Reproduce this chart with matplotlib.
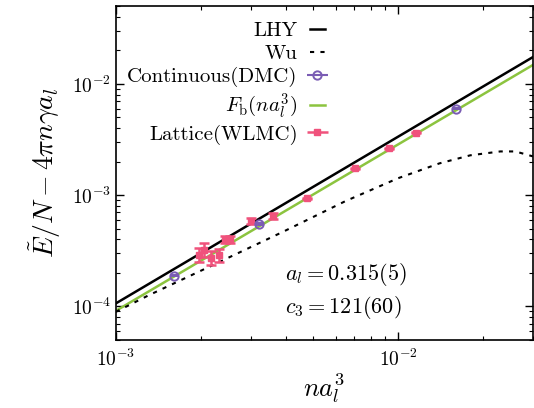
import matplotlib
matplotlib.use('Agg')
import matplotlib.pyplot as plt
import numpy as np

plt.rcParams['font.family'] = 'serif'
plt.rcParams['font.serif'] = ['cmr10', 'DejaVu Serif']
plt.rcParams['mathtext.fontset'] = 'cm'
plt.rcParams['axes.unicode_minus'] = False
plt.rcParams['axes.formatter.use_mathtext'] = True

# LHY and F_b straight lines (log-log), read at the axis ends
lhy_x = [1e-3, 3e-2]
lhy_y = [1.064e-4, 1.742e-2]
fb_x = [1e-3, 3e-2]
fb_y = [9.12e-5, 1.48e-2]

# Wu curve
wu_x = [1e-3, 1.3e-3, 2.15e-3, 3.9e-3, 6.5e-3, 1.0e-2, 1.4e-2, 1.8e-2, 2.3e-2, 2.6e-2, 3e-2]
wu_y = [8.93e-5, 1.25e-4, 2.28e-4, 4.67e-4, 8.83e-4, 1.42e-3, 1.93e-3, 2.28e-3, 2.47e-3, 2.47e-3, 2.23e-3]

# Continuous (DMC)
dmc_x = [1.6e-3, 3.2e-3, 1.6e-2]
dmc_y = [1.89e-4, 5.51e-4, 5.98e-3]
dmc_err = [3e-6, 8e-6, 6e-5]

# Lattice (WLMC)
wlmc_x = [1.97e-3, 2.06e-3, 2.18e-3, 2.31e-3, 2.43e-3, 2.53e-3, 3.02e-3, 3.59e-3, 4.77e-3, 7.05e-3, 9.29e-3, 1.158e-2]
wlmc_y = [2.91e-4, 3.23e-4, 2.74e-4, 2.91e-4, 3.97e-4, 3.97e-4, 5.86e-4, 6.49e-4, 9.40e-4, 1.74e-3, 2.63e-3, 3.65e-3]
wlmc_err = [4.1e-5, 4.5e-5, 3.8e-5, 4.0e-5, 2.9e-5, 2.9e-5, 3.5e-5, 3.9e-5, 1.2e-5, 2e-5, 3e-5, 4e-5]

purple = '#7a5cb4'
pink = '#f0527c'
green = '#8cc43f'

fig = plt.figure(figsize=(5.34, 4.08), dpi=100)
ax = fig.add_axes([0.217, 0.167, 0.781, 0.818])

h_lhy, = ax.plot(lhy_x, lhy_y, color='black', lw=1.8, label='LHY', zorder=3)
h_wu, = ax.plot(wu_x, wu_y, color='black', lw=1.5, ls=(0, (2, 3)), label='Wu', zorder=3)
ax.errorbar(dmc_x, dmc_y, yerr=dmc_err, fmt='o', ms=6, mfc='none', mec=purple,
            mew=1.4, ecolor=purple, capsize=3, zorder=5)
h_dmc = ax.errorbar([], [], xerr=[], fmt='o', ms=6, mfc='none', mec=purple, mew=1.4,
                    ecolor=purple, capsize=3, label='Continuous(DMC)')
h_fb, = ax.plot(fb_x, fb_y, color=green, lw=1.8, label=r'$F_{\rm b}(na_l^3)$', zorder=2)
ax.errorbar(wlmc_x, wlmc_y, yerr=wlmc_err, fmt='s', ms=5, color=pink,
            ecolor=pink, elinewidth=1.8, capsize=3.5, capthick=1.8, zorder=4)
h_wlmc = ax.errorbar([], [], xerr=[], fmt='s', ms=5, color=pink, ecolor=pink,
                     elinewidth=1.8, capsize=3.5, capthick=1.8, label='Lattice(WLMC)')

ax.set_xscale('log')
ax.set_yscale('log')
ax.set_xlim(1e-3, 3e-2)
ax.set_ylim(5e-5, 5e-2)

ax.tick_params(which='both', direction='in', top=True, right=True, labelsize=14)
ax.tick_params(which='major', length=6, width=1)
ax.tick_params(which='minor', length=3, width=0.8)
ax.tick_params(axis='x', pad=6)
for s in ax.spines.values():
    s.set_linewidth(1.2)

ax.set_xlabel(r'$na_l^3$', fontsize=19, labelpad=1)
ax.set_ylabel(r'$\tilde{E}/N-4\pi n\gamma a_l$', fontsize=20, labelpad=6)

ax.text(0.405, 0.18, r'$a_l=0.315(5)$', transform=ax.transAxes, fontsize=16)
ax.text(0.405, 0.08, r'$c_3=121(60)$', transform=ax.transAxes, fontsize=16)

handles = [h_lhy, h_wu, h_dmc, h_fb, h_wlmc]
ax.legend(handles, [h.get_label() for h in handles], loc='upper left',
          bbox_to_anchor=(-0.01, 1.0), frameon=False, markerfirst=False,
          fontsize=15, handlelength=0.7, handletextpad=0.6,
          labelspacing=0.2, borderaxespad=0.35)

fig.savefig('out.png', dpi=100)
